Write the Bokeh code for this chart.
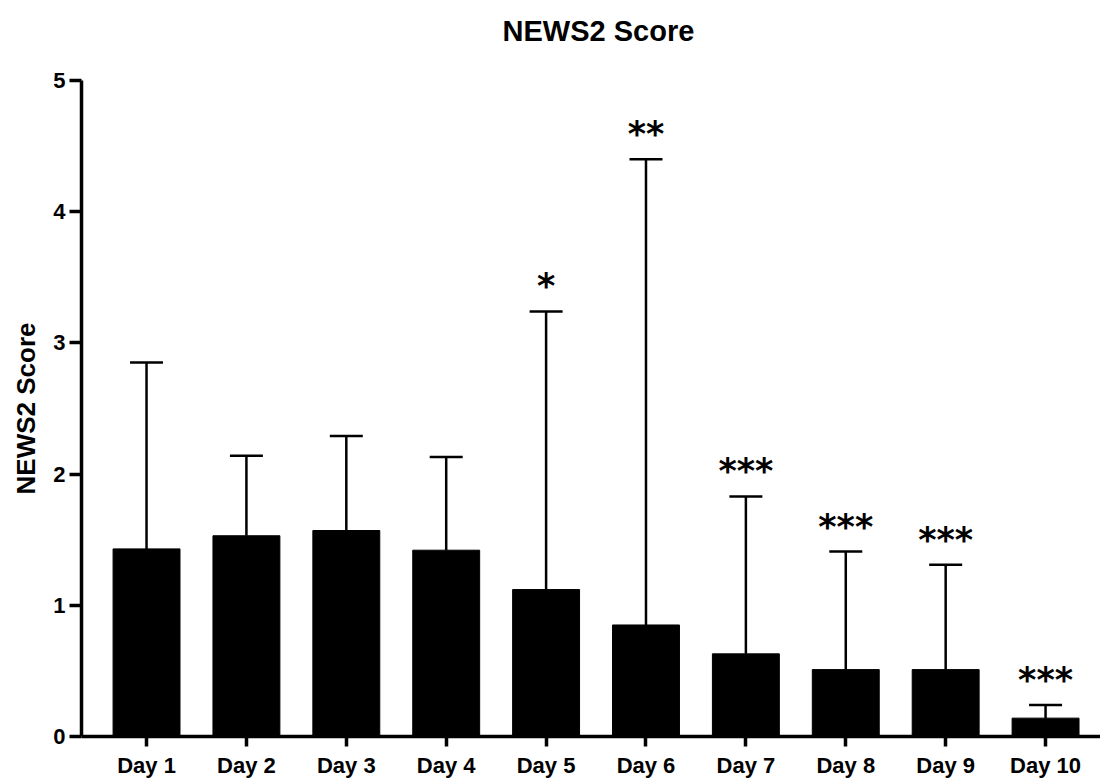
from bokeh.plotting import figure
from bokeh.layouts import column
from bokeh.models import Range1d, FixedTicker, Whisker, ColumnDataSource, TeeHead
from bokeh.core.properties import value
from bokeh.embed import file_html
from bokeh.resources import INLINE

title = "NEWS2 Score"
days = ["Day 1", "Day 2", "Day 3", "Day 4", "Day 5", "Day 6", "Day 7", "Day 8", "Day 9", "Day 10"]
means = [1.43, 1.53, 1.57, 1.42, 1.12, 0.85, 0.63, 0.51, 0.51, 0.14]
sds = [1.42, 0.61, 0.72, 0.71, 2.12, 3.55, 1.20, 0.90, 0.80, 0.10]
stars = ["", "", "", "", "*", "**", "***", "***", "***", "***"]
y_ticks = [0, 1, 2, 3, 4, 5]

xs = list(range(1, len(days) + 1))
upper = [m + s for m, s in zip(means, sds)]
source = ColumnDataSource(dict(x=xs, mean=means, upper=upper, stars=stars))

FONT = "Liberation Sans"
W = 1100

# title strip (pixel coordinates)
t = figure(width=W, height=68, x_range=Range1d(0, W), y_range=Range1d(0, 68),
           output_backend="svg", toolbar_location=None,
           x_axis_location=None, y_axis_location=None,
           min_border_left=0, min_border_right=0, min_border_top=0, min_border_bottom=0)
t.xgrid.visible = False
t.ygrid.visible = False
t.outline_line_color = None
t.text(x=[558], y=[38], text=[title], text_align="center", text_baseline="middle",
       text_font=value(FONT), text_font_size="29px", text_font_style="bold", text_color="black")

p = figure(width=W, height=712, x_range=Range1d(0.349, 10.55), y_range=Range1d(0, 5),
           output_backend="svg", toolbar_location=None,
           min_border_left=81, min_border_right=0, min_border_top=12, min_border_bottom=44)

p.vbar(x="x", top="mean", width=0.67, source=source, fill_color="black", line_color="black")

wh = Whisker(base="x", lower="mean", upper="upper", source=source,
             upper_head=TeeHead(size=33, line_width=2.5, line_color="black"),
             lower_head=None, line_width=2.5, line_color="black")
p.add_layout(wh)

p.text(x="x", y="upper", text="stars", source=source, text_align="center",
       text_baseline="alphabetic", y_offset=-25, text_font=value("DejaVu Sans"),
       text_font_size="35px", text_font_style="bold", text_color="black")

p.xgrid.visible = False
p.ygrid.visible = False
p.outline_line_color = None

xa = p.xaxis[0]
xa.ticker = FixedTicker(ticks=xs)
xa.major_label_overrides = {x: d for x, d in zip(xs, days)}
xa.major_tick_out = 10
xa.major_tick_in = 0
xa.minor_tick_out = 0
xa.minor_tick_in = 0
xa.axis_line_width = 3.5
xa.major_tick_line_width = 3.5
xa.major_label_standoff = 6
xa.major_label_text_font = FONT
xa.major_label_text_font_size = "22px"
xa.major_label_text_font_style = "bold"
xa.major_label_text_color = "black"

ya = p.yaxis[0]
ya.ticker = FixedTicker(ticks=y_ticks)
ya.major_tick_out = 12
ya.major_tick_in = 0
ya.minor_tick_out = 0
ya.minor_tick_in = 0
ya.axis_line_width = 3.5
ya.major_tick_line_width = 3.5
ya.major_label_standoff = 4
ya.major_label_text_font = FONT
ya.major_label_text_font_size = "22px"
ya.major_label_text_font_style = "bold"
ya.major_label_text_color = "black"
ya.axis_label = "NEWS2 Score"
ya.axis_label_text_font = FONT
ya.axis_label_text_font_size = "26px"
ya.axis_label_text_font_style = "bold"
ya.axis_label_text_color = "black"
ya.axis_label_standoff = 9

layout = column(t, p, spacing=0)
open("out.html", "w").write(file_html(layout, INLINE))
